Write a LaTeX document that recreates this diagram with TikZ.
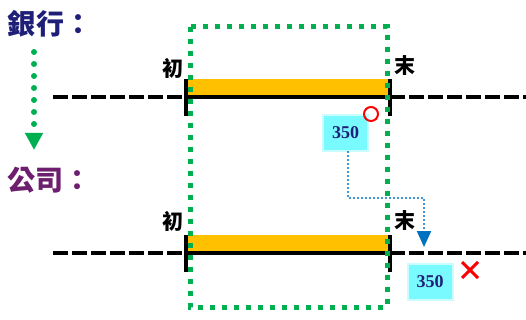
\documentclass[tikz,border=0pt]{standalone}
\usepackage{fontspec}
\setmainfont{Liberation Serif}
\newfontfamily\cjk{Noto Sans CJK TC}
\usetikzlibrary{arrows.meta,positioning}
\definecolor{navy}{RGB}{31,31,120}
\definecolor{plum}{RGB}{110,30,110}
\definecolor{bar}{RGB}{255,192,0}
\definecolor{dotgreen}{RGB}{0,176,80}
\definecolor{dotblue}{RGB}{0,112,192}
\definecolor{glow}{RGB}{120,250,255}

\begin{document}
\begin{tikzpicture}[x=1pt,y=-1pt,
	tick/.style={line width=4pt},
	dashline/.style={line width=4.5pt, dash pattern=on 15pt off 4pt},
	solidline/.style={line width=4.5pt},
	frame/.style={color=dotgreen, line width=5pt, dash pattern=on 5pt off 7pt},
	amount/.style={fill=glow, draw=glow!40, line width=2pt, text=navy, font=\bfseries\fontsize{18}{18}\selectfont, minimum width=45pt, minimum height=36pt, inner sep=0pt},
	endlabel/.style={font=\cjk\bfseries\fontsize{21}{21}\selectfont},
	title/.style={font=\cjk\bfseries\fontsize{28}{28}\selectfont}]
	\useasboundingbox (0,0) rectangle (526,320);

	% bank
	\node[title, color=navy](bank) at (50,24) {銀行：};
	\coordinate(a1) at (34,52);
	\coordinate(a2) at (34,150);
	\draw[color=dotgreen, line width=6pt, line cap=round, dash pattern=on 0pt off 12pt, -{Triangle[width=17pt,length=17pt,line cap=butt]}](a1) -- (a2);

	\fill[color=bar] (187,79) rectangle (389,95);
	\coordinate(b0) at (53,97);
	\coordinate(b1) at (186,97);
	\coordinate(b2) at (390,97);
	\coordinate(b3) at (526,97);
	\draw[dashline](b0) -- (b1);
	\draw[solidline](b1) -- (b2);
	\draw[dashline](b2) -- (b3);
	\draw[tick](186,79) -- (186,116);
	\draw[tick](390,79) -- (390,116);
	\node[endlabel](b-start) at (173,68) {初};
	\node[endlabel](b-end) at (405,66) {末};

	% company
	\node[title, color=plum](firm) at (49,180) {公司：};
	\fill[color=bar] (187,235) rectangle (389,251);
	\coordinate(c0) at (53,253);
	\coordinate(c1) at (186,253);
	\coordinate(c2) at (390,253);
	\coordinate(c3) at (526,253);
	\draw[dashline](c0) -- (c1);
	\draw[solidline](c1) -- (c2);
	\draw[dashline](c2) -- (c3);
	\draw[tick](186,235) -- (186,272);
	\draw[tick](390,235) -- (390,272);
	\node[endlabel](c-start) at (173,221) {初};
	\node[endlabel](c-end) at (405,221) {末};

	\draw[frame](190,27) rectangle (387,307);

	% amounts
	\node[amount](pay1) at (345.5,133) {350};
	\draw[color=red, line width=2pt](371,114) circle (7);
	\node[amount](pay2) at (430,282) {350};
	\draw[color=red, line width=3pt](462,262) -- (478,278);
	\draw[color=red, line width=3pt](478,262) -- (462,278);

	\coordinate(bend) at (348,198);
	\coordinate(drop) at (424,247);
	\draw[color=dotblue, line width=2.2pt, line cap=round, dash pattern=on 0pt off 4pt, -{Triangle[width=14pt,length=16pt,line cap=butt]}](pay1.south -| bend) -- (bend) -| (drop);
\end{tikzpicture}
\end{document}
